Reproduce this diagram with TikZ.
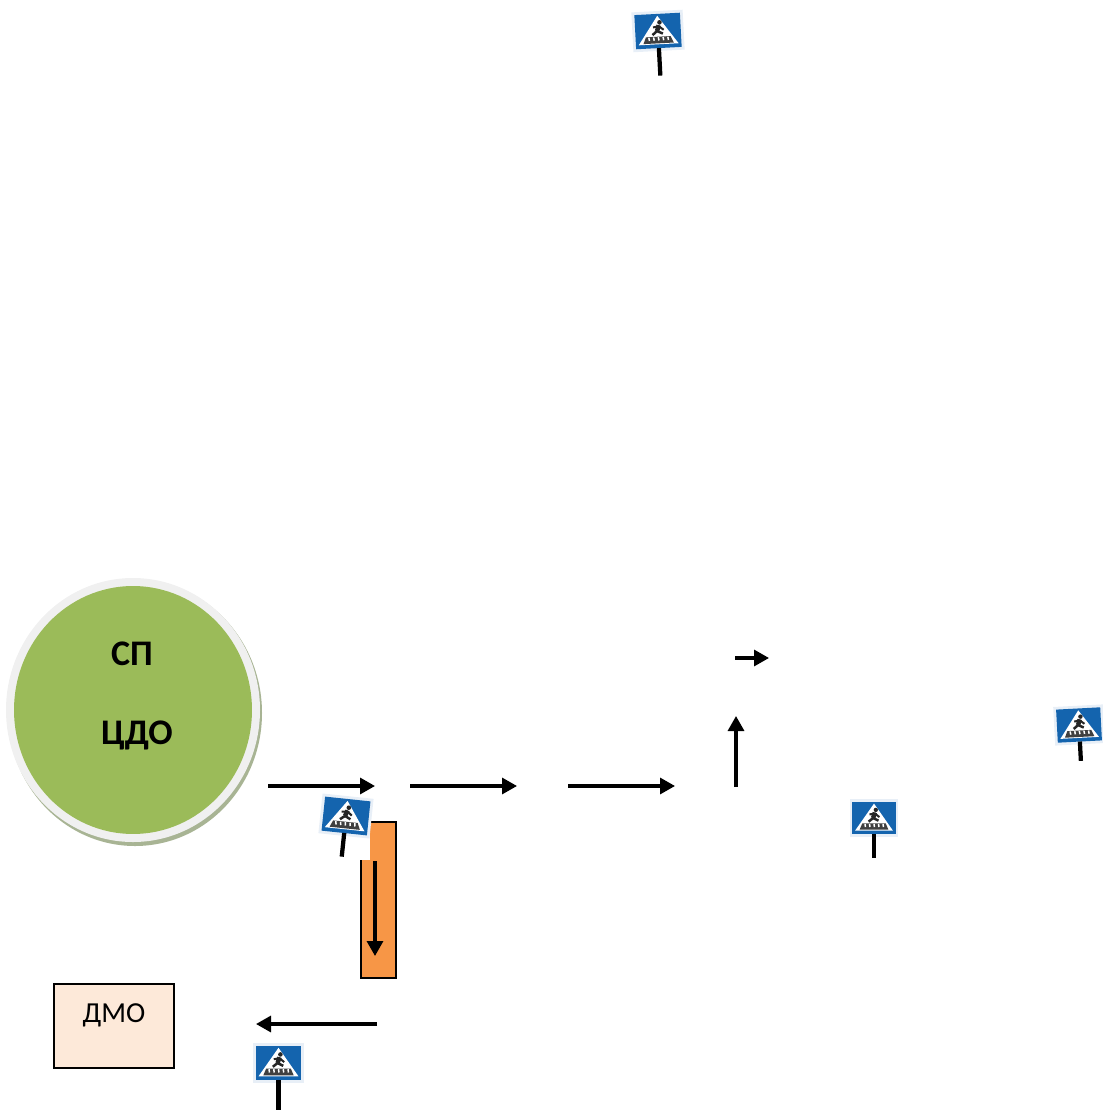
\documentclass[tikz,border=0pt]{standalone}
\usepackage{fontspec}
\setmainfont{Carlito}
\usetikzlibrary{arrows.meta,shapes.geometric}

\definecolor{krug}{HTML}{9BBB59}
\definecolor{ten}{HTML}{A8B494}
\definecolor{oranzh}{HTML}{F79646}
\definecolor{bezh}{HTML}{FDE9D9}
\definecolor{znak}{HTML}{1464AE}

\tikzset{
	strelka/.style={line width=0.065cm, -{Triangle[length=0.3cm,width=0.32cm]}},
	ramka/.style={draw=black, line width=0.05cm, inner sep=0pt},
	krugl/.style={ellipse, inner sep=0pt},
	crosssign/.pic={
		\fill[white!90!znak] (-27,-21) rectangle (27,21);
		\fill[znak] (-24,-18) rectangle (24,18);
		\fill[white] (0,-16) -- (21,14) -- (-21,14) -- cycle;
		% Peshehod
		\fill[black!85] (2,-9) circle[radius=2.4];
		\draw[black!85, line width=0.09cm] (1,-6) -- (-1,0);
		\draw[black!85, line width=0.05cm] (-1,0) -- (-6,4);
		\draw[black!85, line width=0.05cm] (-1,0) -- (5,3);
		\draw[black!85, line width=0.04cm] (-5,-4) -- (1,-5) -- (6,-1);
		% Zebra
		\fill[black!75] (-16,13) -- (-13,6) -- (13,6) -- (16,13) -- cycle;
		\foreach \xp in {-10,-5,0,5,10}
			\draw[white, line width=0.03cm] (\xp,6.5) -- (\xp+0.5,10);
		% Stolb
		\draw[black, line width=0.085cm] (0,18) -- (0,#1);
	}
}

\begin{document}
\begin{tikzpicture}[x=0.02cm, y=-0.02cm]
	\useasboundingbox (0,0) rectangle (1102,1111);

	% Krug
		\fill[ten] (135,713) ellipse[x radius=127, y radius=133];
		\fill[black!6] (133,710) ellipse[x radius=127, y radius=132];
		\node[krugl, fill=krug, minimum width=4.76cm, minimum height=4.96cm] (cdo) at (133,710) {};
		\node[font=\bfseries\fontsize{20.5}{21}\selectfont] (sp) at (132,654) {СП};
		\node[font=\bfseries\fontsize{20.5}{21}\selectfont] (cdotxt) at (137,735) {ЦДО};

	% Pryamougolniki
		\node[ramka, fill=oranzh, minimum width=0.7cm, minimum height=3.12cm] (stolbik) at (378.5,900) {};
		\node[ramka, fill=bezh, minimum width=2.4cm, minimum height=1.68cm] (dmo) at (114,1026) {};
		\node[font=\fontsize{16.5}{17}\selectfont] (dmotxt) at (114,1015) {ДМО};

	% Znaki
		\fill[white] (313,797) rectangle (370,860);
		\pic[scale=0.95, rotate=3] (z1) at (658,31) {crosssign=47};
		\pic[scale=0.95, rotate=-6] (z2) at (346,816) {crosssign=43};
		\pic[scale=0.92, rotate=3] (z3) at (1079,725) {crosssign=39};
		\pic[scale=0.9] (z4) at (874,818) {crosssign=44};
		\pic[scale=0.95] (z5) at (278.5,1063) {crosssign=49};

	% Tochki
		\coordinate (a1) at (268,786);
		\coordinate (a2) at (375,786);
		\coordinate (b1) at (410,786);
		\coordinate (b2) at (517,786);
		\coordinate (c1) at (568,786);
		\coordinate (c2) at (675,786);
		\coordinate (d1) at (736,787);
		\coordinate (d2) at (736,716);
		\coordinate (e1) at (735,658);
		\coordinate (e2) at (769,658);
		\coordinate (f1) at (375,861);
		\coordinate (f2) at (375,956);
		\coordinate (g1) at (377,1024);
		\coordinate (g2) at (256,1024);

	% Strelki
		\foreach \nach/\kon in {a1/a2, b1/b2, c1/c2, d1/d2, e1/e2, f1/f2, g1/g2}
			\draw[strelka] (\nach) -- (\kon);
\end{tikzpicture}
\end{document}
